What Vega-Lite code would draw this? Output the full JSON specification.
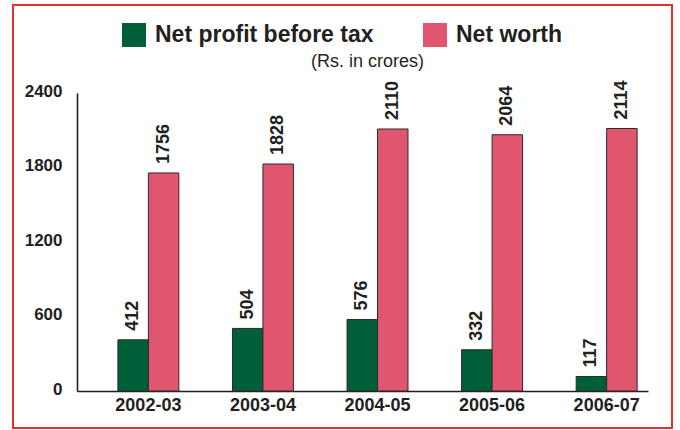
{
  "$schema": "https://vega.github.io/schema/vega-lite/v6.json",
  "autosize": "none",
  "width": 659,
  "height": 423,
  "padding": {"left": 13, "top": 5, "right": 8, "bottom": 2},
  "background": "white",
  "title": {
    "text": "(Rs. in crores)",
    "orient": "top",
    "anchor": "middle",
    "frame": "group",
    "offset": -80,
    "baseline": "alphabetic",
    "dx": 25,
    "font": "Liberation Sans",
    "fontSize": 18,
    "fontWeight": "normal",
    "color": "#231f20"
  },
  "data": {
    "values": [
      {"year": "2002-03", "series": "Net profit before tax", "value": 412},
      {"year": "2002-03", "series": "Net worth", "value": 1756},
      {"year": "2003-04", "series": "Net profit before tax", "value": 504},
      {"year": "2003-04", "series": "Net worth", "value": 1828},
      {"year": "2004-05", "series": "Net profit before tax", "value": 576},
      {"year": "2004-05", "series": "Net worth", "value": 2110},
      {"year": "2005-06", "series": "Net profit before tax", "value": 332},
      {"year": "2005-06", "series": "Net worth", "value": 2064},
      {"year": "2006-07", "series": "Net profit before tax", "value": 117},
      {"year": "2006-07", "series": "Net worth", "value": 2114}
    ]
  },
  "encoding": {
    "x": {
      "field": "year",
      "type": "nominal",
      "sort": null,
      "scale": {"range": [64, 635], "paddingInner": 0.468, "paddingOuter": 0.226, "align": 0.79},
      "axis": {
        "title": null,
        "orient": "bottom",
        "offset": -37,
        "labelAngle": 0,
        "ticks": false,
        "tickSize": 0,
        "labelPadding": 5,
        "labelFont": "Liberation Sans",
        "labelFontSize": 18,
        "labelFontWeight": "bold",
        "labelColor": "#231f20",
        "domainColor": "#231f20",
        "domainWidth": 1.6
      }
    },
    "xOffset": {
      "field": "series",
      "type": "nominal",
      "sort": ["Net profit before tax", "Net worth"],
      "scale": {"paddingInner": 0, "paddingOuter": 0}
    },
    "y": {
      "field": "value",
      "type": "quantitative",
      "scale": {"domain": [0, 2400], "range": [386, 88], "nice": false},
      "axis": {
        "title": null,
        "orient": "left",
        "offset": -64,
        "values": [0, 600, 1200, 1800, 2400],
        "format": "d",
        "grid": false,
        "ticks": false,
        "tickSize": 0,
        "labelPadding": 15,
        "labelOffset": -2,
        "labelFont": "Liberation Sans",
        "labelFontSize": 17,
        "labelFontWeight": "bold",
        "labelColor": "#231f20",
        "domainColor": "#231f20",
        "domainWidth": 1.6
      }
    }
  },
  "layer": [
    {
      "mark": {"type": "bar", "stroke": "#2a2a2a", "strokeWidth": 1},
      "encoding": {
        "color": {
          "field": "series",
          "type": "nominal",
          "sort": ["Net profit before tax", "Net worth"],
          "scale": {"range": ["#005e38", "#e1566f"]},
          "legend": {
            "title": null,
            "orient": "none",
            "direction": "horizontal",
            "legendX": 109,
            "legendY": 18,
            "padding": 0,
            "symbolType": "square",
            "symbolSize": 576,
            "symbolStrokeWidth": 0,
            "symbolOpacity": 1,
            "labelFont": "Liberation Sans",
            "labelFontSize": 23,
            "labelFontWeight": "bold",
            "labelColor": "#231f20",
            "labelOffset": 9,
            "labelLimit": 400,
            "columnPadding": 49
          }
        }
      }
    },
    {
      "mark": {
        "type": "text",
        "angle": 270,
        "align": "left",
        "baseline": "middle",
        "dx": 9,
        "font": "Liberation Sans",
        "fontSize": 18,
        "fontWeight": "bold",
        "color": "#231f20"
      },
      "encoding": {
        "text": {"field": "value", "type": "quantitative", "format": "d"}
      }
    }
  ],
  "config": {
    "font": "Liberation Sans",
    "view": {"stroke": "#e3302b", "strokeWidth": 2}
  }
}
